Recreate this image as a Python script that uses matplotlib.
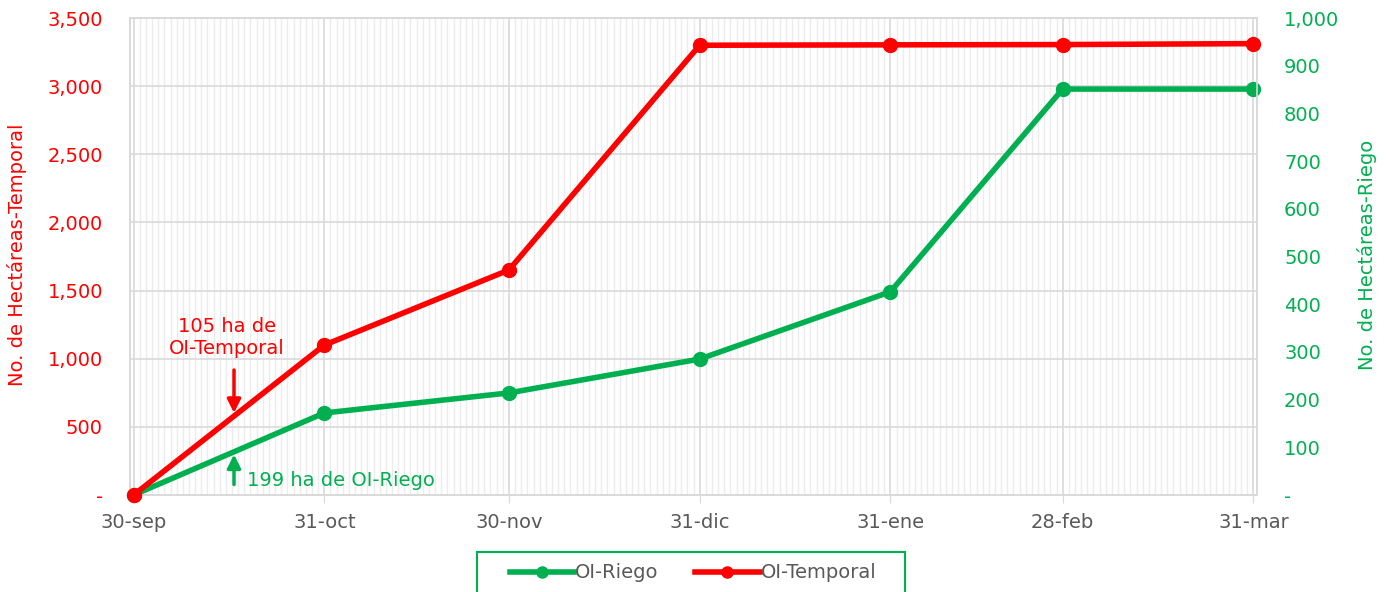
import datetime as dt

import matplotlib
matplotlib.use("Agg")
import matplotlib.pyplot as plt
import matplotlib.dates as mdates
from matplotlib.ticker import FuncFormatter, MultipleLocator, FixedLocator
from matplotlib.lines import Line2D
from matplotlib.patches import Rectangle

plt.rcParams['font.family'] = ['DejaVu Sans']

# data
fechas = ['2022-09-30', '2022-10-31', '2022-11-30', '2022-12-31',
          '2023-01-31', '2023-02-28', '2023-03-31']
etiquetas = ['30-sep', '31-oct', '30-nov', '31-dic', '31-ene', '28-feb', '31-mar']
oi_temporal = [0, 1100, 1651, 3300, 3303, 3305, 3312]
oi_riego = [0, 172, 214, 285, 426, 851, 851]

ROJO = '#ff0000'
VERDE = '#00b050'
GRIS = '#595959'
GRID = '#d9d9d9'
FS = 14

x = [dt.datetime.strptime(f, '%Y-%m-%d') for f in fechas]


def fmt(v, pos):
    return '-' if abs(v) < 1e-9 else f'{v:,.0f}'


fig = plt.figure(figsize=(13.86, 5.92), dpi=100)
ax = fig.add_axes([130 / 1386, 1 - 495 / 592, 1127 / 1386, 477 / 592])
ax2 = ax.twinx()
ax3 = ax.twinx()

# x axis
xmin = x[0] - dt.timedelta(hours=14)
xmax = x[-1] + dt.timedelta(hours=14)
ax.set_xlim(xmin, xmax)
ax.xaxis.set_major_locator(FixedLocator(mdates.date2num(x)))
ax.set_xticklabels(etiquetas)
ax.xaxis.set_minor_locator(mdates.DayLocator())
ax.tick_params(axis='x', which='major', length=6, color=GRID, pad=7,
               labelsize=FS, labelcolor=GRIS)
ax.tick_params(axis='x', which='minor', length=0)
ax.grid(axis='x', which='minor', color='#ececec', lw=1.0)
ax.grid(axis='x', which='major', color=GRID, lw=1.2)
ax.grid(axis='y', which='major', color=GRID, lw=1.2)

# left axis
ax.set_ylim(0, 3500)
ax.yaxis.set_major_locator(MultipleLocator(500))
ax.yaxis.set_major_formatter(FuncFormatter(fmt))
ax.tick_params(axis='y', length=0, pad=19.5, labelsize=FS, labelcolor=ROJO)
ax.set_ylabel('No. de Hectáreas-Temporal', color=ROJO, fontsize=FS)
ax.yaxis.set_label_coords(-0.0914, 0.503)

# right axis
ax2.set_ylim(0, 1000)
ax2.yaxis.set_major_locator(MultipleLocator(100))
ax2.yaxis.set_major_formatter(FuncFormatter(fmt))
ax2.tick_params(axis='y', length=0, pad=19.5, labelsize=FS, labelcolor=VERDE)
ax2.set_ylabel('No. de Hectáreas-Riego', color=VERDE, fontsize=FS)
ax2.yaxis.set_label_coords(1.0888, 0.503)

# overlay axis for red series (same scale as left)
ax3.set_ylim(0, 3500)
ax3.axis('off')

for a in (ax, ax2):
    for s in a.spines.values():
        s.set_color(GRID)
        s.set_linewidth(1.2)

ax2.plot(x, oi_riego, color=VERDE, lw=4, marker='o', ms=10, clip_on=False)
ax3.plot(x, oi_temporal, color=ROJO, lw=4, marker='o', ms=10, clip_on=False)

# annotations
ax.text(0.086, 0.331, '105 ha de\nOI-Temporal', transform=ax.transAxes,
        color=ROJO, fontsize=FS, ha='center', va='center', linespacing=1.2)
ax.annotate('', xy=(0.0923, 0.172), xytext=(0.0923, 0.262),
            xycoords='axes fraction', textcoords='axes fraction',
            arrowprops=dict(arrowstyle='-|>', color=ROJO, lw=2.5,
                            mutation_scale=20, shrinkA=0, shrinkB=0))
ax.text(0.1038, 0.031, '199 ha de OI-Riego', transform=ax.transAxes,
        color=VERDE, fontsize=FS, ha='left', va='center')
ax.annotate('', xy=(0.0923, 0.085), xytext=(0.0923, 0.022),
            xycoords='axes fraction', textcoords='axes fraction',
            arrowprops=dict(arrowstyle='-|>', color=VERDE, lw=2.5,
                            mutation_scale=20, shrinkA=0, shrinkB=0))

# legend (frame drawn separately to get Excel-like padding)
handles = [Line2D([], [], color=VERDE, lw=4, marker='o', ms=8),
           Line2D([], [], color=ROJO, lw=4, marker='o', ms=8)]
leg = fig.legend(handles, ['OI-Riego', 'OI-Temporal'], loc='center',
                 bbox_to_anchor=(693 / 1386, 1 - 573 / 592), ncol=2,
                 fontsize=FS, frameon=False,
                 handlelength=3.3, handletextpad=0.05, columnspacing=1.9)
for t in leg.get_texts():
    t.set_color(GRIS)
fig.patches.append(Rectangle((477 / 1386, -0.05), 428 / 1386, 0.05 + 40 / 592,
                             transform=fig.transFigure, fill=False,
                             edgecolor=VERDE, lw=1.5))

fig.savefig('out.png', dpi=100)
